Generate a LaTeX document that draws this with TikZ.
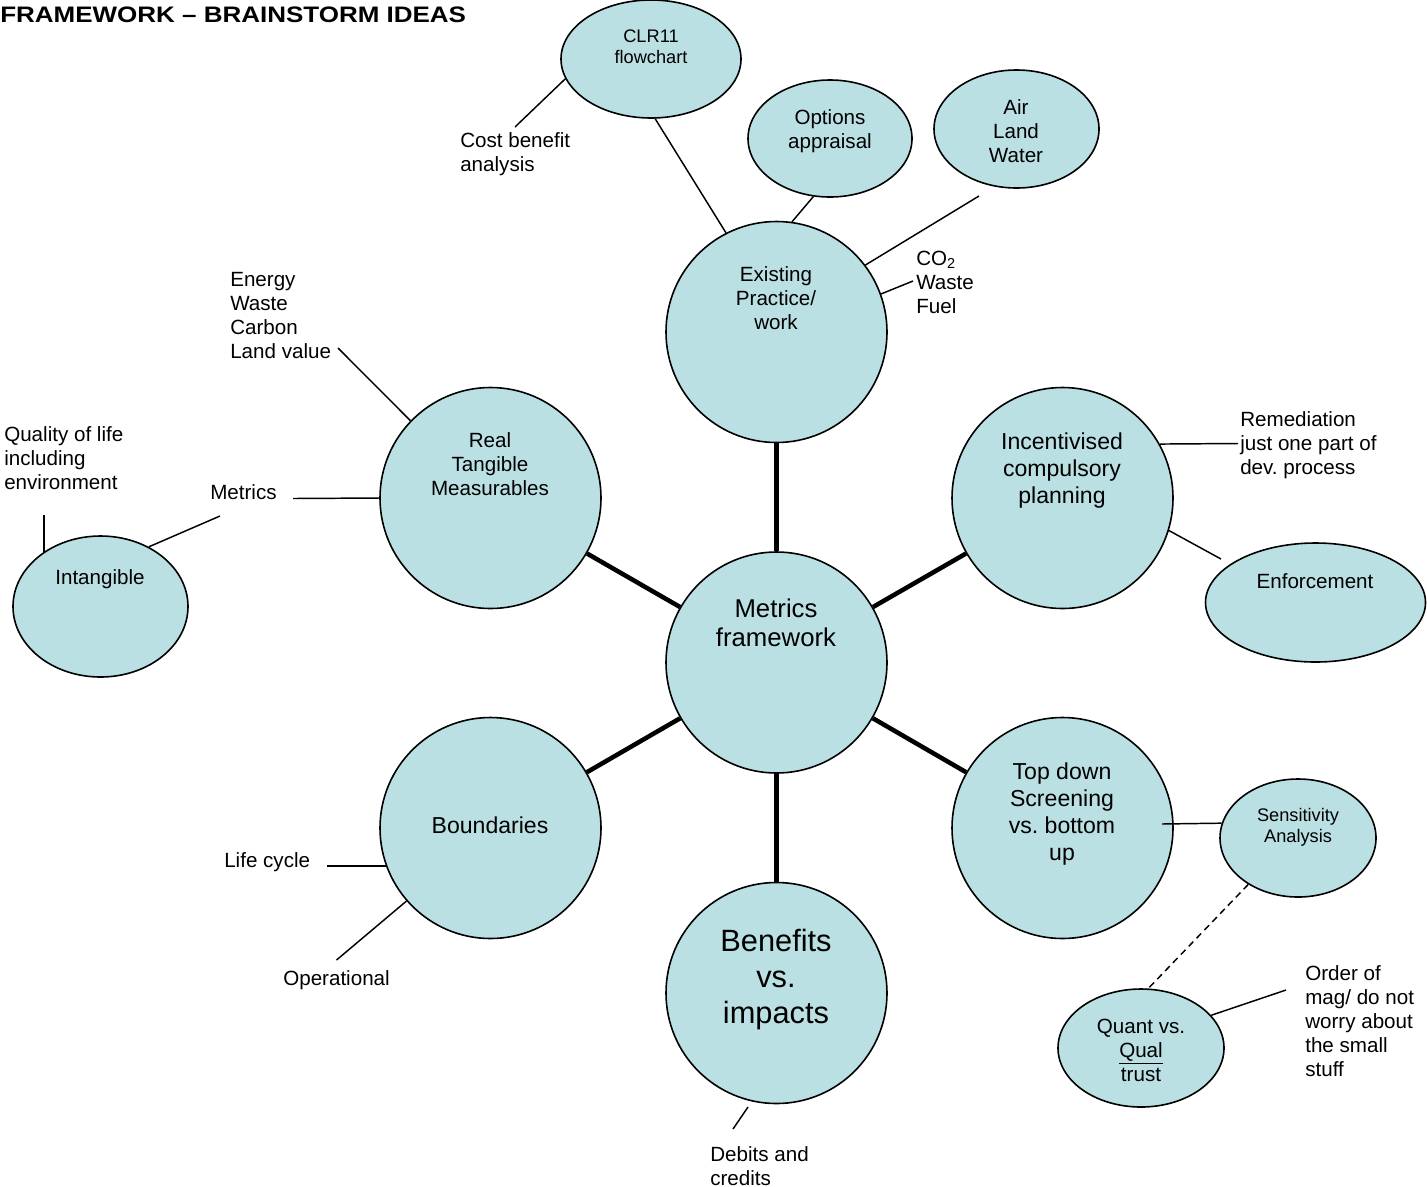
\documentclass[tikz,border=0pt]{standalone}
\usepackage{fontspec}
\setmainfont{Liberation Sans}
\usetikzlibrary{shapes.geometric}
\definecolor{bubble}{RGB}{187,224,227}
\frenchspacing
\begin{document}
\begin{tikzpicture}[x=0.75pt,y=-0.75pt,
  bub/.style={ellipse,draw=black,fill=bubble,line width=1.2pt,inner sep=0pt},
  big/.style={circle,draw=black,fill=bubble,line width=1.2pt,inner sep=0pt,minimum size=165.75pt},
  txt/.style={inner sep=0pt,align=center,anchor=north},
  lab/.style={inner sep=0pt,align=left,anchor=north west},
  fA/.style={font=\fontsize{15.45}{18}\selectfont},
  fS/.style={font=\fontsize{13.65}{15.75}\selectfont},
  fM/.style={font=\fontsize{17.3}{20.25}\selectfont},
  fL/.style={font=\fontsize{19.3}{21.75}\selectfont},
  fX/.style={font=\fontsize{23.1}{27}\selectfont},
  link/.style={line width=1.1pt},
  hub/.style={line width=3.4pt},
  dlink/.style={line width=1.1pt,dash pattern=on 5pt off 3.5pt}]
\useasboundingbox (0,0) rectangle (1427,1186);

% title
\node[lab,font=\bfseries\fontsize{16.8}{19}\selectfont] (title) at (0,7) {\scalebox{1.16}[1]{FRAMEWORK – BRAINSTORM IDEAS}};

% bubbles
\node[bub,minimum width=135pt,minimum height=88.5pt] (clr) at (651,59) {};
\node[txt,fS] (clrT) at (651,29.5) {CLR11\\flowchart};
\node[bub,minimum width=123pt,minimum height=87.75pt] (opt) at (830,138.5) {};
\node[txt,fA] (optT) at (830,109.6) {Options\\appraisal};
\node[bub,minimum width=123.75pt,minimum height=88.5pt] (air) at (1016.5,129) {};
\node[txt,fA] (airT) at (1016,99.6) {Air\\Land\\Water};

\node[big] (ex) at (776.5,332) {};
\node[txt,fA] (exT) at (776,266.6) {Existing\\Practice/\\work};
\node[big] (real) at (490.5,498) {};
\node[txt,fA] (realT) at (490,432.6) {Real\\Tangible\\Measurables};
\node[big] (inc) at (1062.5,498) {};
\node[txt,fM] (incT) at (1062,432.7) {Incentivised\\compulsory\\planning};
\node[big] (mf) at (776.5,662.5) {};
\node[txt,fL] (mfT) at (776,598.8) {Metrics\\framework};
\node[big] (bnd) at (490.5,828) {};
\node[txt,fM] (bndT) at (490,816.7) {Boundaries};
\node[big] (td) at (1062.5,828) {};
\node[txt,fM] (tdT) at (1062,762.7) {Top down\\Screening\\vs. bottom\\up};
\node[big] (ben) at (776.5,993) {};
\node[txt,fX] (benT) at (776,929) {Benefits\\vs.\\impacts};

\node[bub,minimum width=131.25pt,minimum height=105.75pt] (intg) at (100.5,606.5) {};
\node[txt,fA] (intgT) at (100,569.6) {Intangible};
\node[bub,minimum width=165pt,minimum height=89.25pt] (enf) at (1315.5,602.5) {};
\node[txt,fA] (enfT) at (1315,573.6) {Enforcement};
\node[bub,minimum width=117pt,minimum height=88.5pt] (sens) at (1298,838) {};
\node[txt,fS] (sensT) at (1298,808.5) {Sensitivity\\Analysis};
\node[bub,minimum width=124.5pt,minimum height=88.5pt] (qnt) at (1141,1048) {};
\node[txt,fA] (qntT) at (1141,1018.6) {Quant vs.\\\underline{Qual}\\trust};

% free labels
\node[lab,fA] (cba) at (460,132.6) {Cost benefit\\analysis};
\node[lab,fA] (ewc) at (230,271.6) {Energy\\Waste\\Carbon\\Land value};
\node[lab,fA] (co2) at (916,250.6) {CO\textsubscript{2}\\Waste\\Fuel};
\node[lab,fA] (qol) at (4,426.6) {Quality of life\\including\\environment};
\node[lab,fA] (met) at (210,484.6) {Metrics};
\node[lab,fA] (rem) at (1240,411.6) {Remediation\\just one part of\\dev. process};
\node[lab,fA] (lc) at (224,852.6) {Life cycle};
\node[lab,fA] (op) at (283,970.6) {Operational};
\node[lab,fA] (ord) at (1305,965.6) {Order of\\mag/ do not\\worry about\\the small\\stuff};
\node[lab,fA] (dc) at (710,1146.6) {Debits and\\credits};

% free ends
\coordinate (cbaE) at (515,127);
\coordinate (airE) at (979,196);
\coordinate (co2E) at (913,281);
\coordinate (ewcE) at (338,348);
\coordinate (metE) at (293,498.5);
\coordinate (imE) at (220,516);
\coordinate (remE) at (1238,443.5);
\coordinate (enfE) at (1221,559);
\coordinate (tdS) at (1162,824);
\coordinate (ordE) at (1286,990);
\coordinate (dcA) at (748,1107);
\coordinate (dcB) at (733,1129);

% hub spokes
\draw[hub] (mf) -- (ex);
\draw[hub] (mf) -- (real);
\draw[hub] (mf) -- (inc);
\draw[hub] (mf) -- (bnd);
\draw[hub] (mf) -- (td);
\draw[hub] (mf) -- (ben);

% thin links
\draw[link] (clr.193.3) -- (cbaE);
\draw[link] (clr.-86) -- (ex.117.7);
\draw[link] (opt.-106) -- (ex.82.8);
\draw[link] (airE) -- (ex.37.3);
\draw[link] (ex.20.2) -- (co2E);
\draw[link] (ewcE) -- (real.136);
\draw[link] (metE) -- (real.180);
\draw[link] (intg.51.9) -- (imE);
\draw[link] (intg.136.5) -- ++(0,-37) coordinate (qolE);
\draw[link] (inc.29.7) -- (remE);
\draw[link] (inc.-17.5) -- (enfE);
\draw[link] (bnd.200.3) -- ++(-59,0) coordinate (lcE);
\draw[link] (bnd.221.5) -- ++(-70,59) coordinate (opE);
\draw[link] (tdS) -- (sens.169.6);
\draw[dlink] (sens.223) -- (qnt.83.3);
\draw[link] (qnt.25.3) -- (ordE);
\draw[link] (dcA) -- (dcB);
\end{tikzpicture}
\end{document}
